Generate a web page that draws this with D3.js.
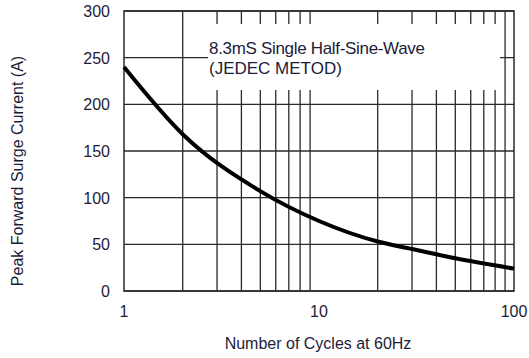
<!DOCTYPE html>
<html><head><meta charset="utf-8">
<script src="https://cdn.jsdelivr.net/npm/d3@7"></script>
<style>body{margin:0;background:#fff}svg{display:block}text{font-family:"Liberation Sans",Arial,sans-serif}</style>
</head><body>
<svg id="c" width="529" height="358"></svg>
<script>
const cycles = [1, 2, 5, 10, 20, 30, 50, 100];
const current = [240, 168, 107, 75, 53, 45, 35, 24];
const yTicks = [0, 50, 100, 150, 200, 250, 300];
const xTickLabels = [1, 10, 100];
const xGrid = [2,3,4,5,6,7,8,9,20,30,40,50,60,70,80,90];
const annotation = ["8.3mS Single Half-Sine-Wave", "(JEDEC METOD)"];
const xTitle = "Number of Cycles at 60Hz";
const yTitle = "Peak Forward Surge Current (A)";

const svg = d3.select("#c");
const L = 124, R = 514, T = 11, B = 291;
const x = d3.scaleLog().domain([1, 100]).range([L, R]);
const y = d3.scaleLinear().domain([0, 300]).range([B, T]);
const txt = "#1c1c3a", grid = "#2a2a2a";

const g = svg.append("g");
g.selectAll(".vg").data(xGrid).join("line")
  .attr("x1", d => x(d)).attr("x2", d => x(d)).attr("y1", T).attr("y2", B)
  .attr("stroke", grid).attr("stroke-width", 1.3);
g.selectAll(".hg").data(yTicks).join("line")
  .attr("x1", L).attr("x2", R).attr("y1", d => y(d)).attr("y2", d => y(d))
  .attr("stroke", grid).attr("stroke-width", 1.3);
g.append("rect").attr("x", L).attr("y", T).attr("width", R - L).attr("height", B - T)
  .attr("fill", "none").attr("stroke", grid).attr("stroke-width", 1.5);

// annotation box (white background)
g.append("rect").attr("x", 208).attr("y", 24).attr("width", 292).attr("height", 66).attr("fill", "#fff");
g.selectAll(".ann").data(annotation).join("text")
  .attr("x", 209).attr("y", (d, i) => 54 + i * 20)
  .attr("font-size", 17).attr("textLength", (d, i) => i === 0 ? 216 : null)
  .attr("fill", txt).text(d => d);

// y tick labels
g.selectAll(".yl").data(yTicks).join("text")
  .attr("x", 110).attr("y", d => y(d) + 6).attr("text-anchor", "end")
  .attr("font-size", 16).attr("fill", txt).text(d => d);
// x tick labels
g.selectAll(".xl").data(xTickLabels).join("text")
  .attr("x", d => x(d)).attr("y", 317).attr("text-anchor", "middle")
  .attr("font-size", 16).attr("fill", txt).text(d => d);

g.append("text").attr("x", 318).attr("y", 349).attr("text-anchor", "middle")
  .attr("font-size", 16).attr("fill", txt).text(xTitle);
g.append("text").attr("transform", "translate(23,171) rotate(-90)").attr("text-anchor", "middle")
  .attr("font-size", 16).attr("fill", txt).text(yTitle);

const line = d3.line().x((d, i) => x(cycles[i])).y(d => y(d)).curve(d3.curveMonotoneX);
g.append("path").attr("d", line(current)).attr("fill", "none")
  .attr("stroke", "#000").attr("stroke-width", 4).attr("stroke-linejoin", "round");
</script>
</body></html>
